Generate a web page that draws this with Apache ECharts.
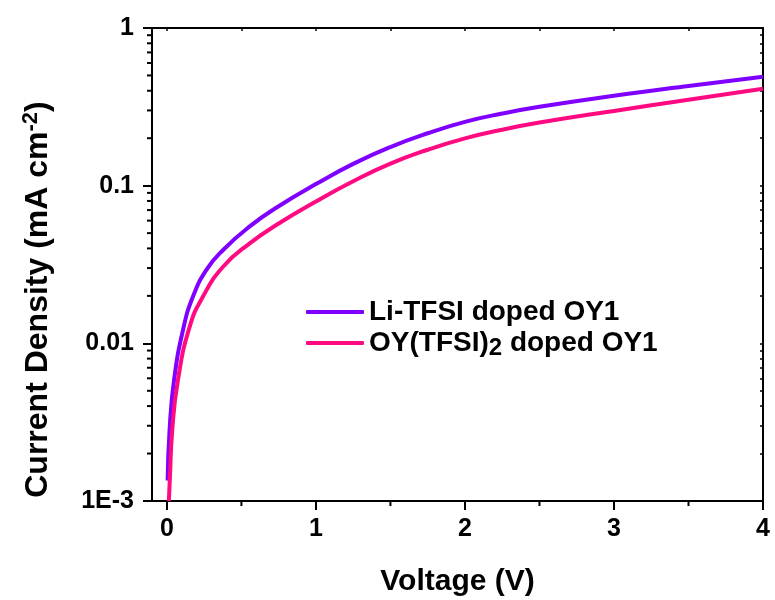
<!DOCTYPE html>
<html>
<head>
    <meta charset="utf-8">
    <title>Current Density vs Voltage</title>
    <script src="https://cdn.jsdelivr.net/npm/echarts@6/dist/echarts.min.js"></script>
    <style>
        html, body { margin: 0; padding: 0; background: #ffffff; }
        #main { width: 775px; height: 600px; }
    </style>
</head>
<body>
<div id="main"></div>
<script type="text/javascript">
    // values
    var liVoltage = [0.005, 0.018, 0.048, 0.108, 0.175, 0.265, 0.377, 0.556, 0.75, 1.0, 1.25, 1.5, 1.75, 2.0, 2.25, 2.5, 3.0, 3.5, 4.0];
    var liCurrent = [0.00135, 0.00282, 0.00585, 0.01216, 0.0198, 0.0292, 0.0391, 0.0552, 0.0741, 0.1023, 0.1374, 0.1758, 0.2150, 0.2541, 0.2867, 0.3162, 0.3715, 0.4290, 0.491];
    var oyVoltage = [0.013, 0.020, 0.036, 0.074, 0.153, 0.242, 0.377, 0.556, 0.75, 1.0, 1.25, 1.5, 1.75, 2.0, 2.25, 2.5, 3.0, 3.5, 4.0];
    var oyCurrent = [0.0010, 0.00140, 0.00282, 0.00585, 0.01276, 0.0198, 0.0306, 0.0431, 0.0575, 0.0794, 0.1067, 0.138, 0.169, 0.1995, 0.2265, 0.2512, 0.2979, 0.3508, 0.412];

    var xMin = -0.1, xMax = 4;
    var yMin = 0.001, yMax = 1;
    var xMajorTicks = [0, 1, 2, 3, 4];
    var xMinorTicks = [0.5, 1.5, 2.5, 3.5];
    var xTopTicks = [0, 0.5, 1, 1.5, 2, 2.5, 3, 3.5, 4];
    var yMajorTicks = [0.001, 0.01, 0.1, 1];
    var yMinorTicks = [0.002, 0.003, 0.004, 0.005, 0.006, 0.007, 0.008, 0.009,
        0.02, 0.03, 0.04, 0.05, 0.06, 0.07, 0.08, 0.09,
        0.2, 0.3, 0.4, 0.5, 0.6, 0.7, 0.8, 0.9];

    var seriesNames = ['Li-TFSI doped OY1', 'OY(TFSI)2 doped OY1'];
    var seriesColors = ['#7f00ff', '#ff0a80'];

    function pairs(xs, ys) {
        var out = [];
        for (var i = 0; i < xs.length; i++) {
            out.push([xs[i], ys[i]]);
        }
        return out;
    }

    var font = 'Arial, "Liberation Sans", Helvetica, sans-serif';
    var axisColor = '#000000';

    var chart = echarts.init(document.getElementById('main'), null, {renderer: 'canvas'});

    // minor ticks drawn through the axes' own coordinate conversion
    var yMinorData = yMinorTicks.map(function (v) { return [xMin, v]; });
    var xMinorData = xMinorTicks.map(function (v) { return [v, yMin]; });

    var option = {
        backgroundColor: '#ffffff',
        animation: false,
        grid: {
            left: 152, right: 12, top: 28, bottom: 99,
            containLabel: false,
            outerBoundsMode: 'none'
        },
        legend: {
            orient: 'vertical',
            left: 301,
            top: 290,
            itemWidth: 58,
            itemHeight: 4,
            itemGap: -3,
            icon: 'roundRect',
            data: seriesNames,
            formatter: function (name) {
                return name.replace('(TFSI)2', '(TFSI){sub|2}');
            },
            textStyle: {
                fontFamily: font,
                fontSize: 28,
                fontWeight: 'bold',
                color: '#000',
                lineHeight: 34,
                rich: {
                    sub: {
                        fontFamily: font,
                        fontSize: 24,
                        fontWeight: 'bold',
                        color: '#000',
                        lineHeight: 9,
                        verticalAlign: 'bottom'
                    }
                }
            }
        },
        xAxis: [{
            type: 'value',
            position: 'bottom',
            min: xMin,
            max: xMax,
            name: 'Voltage (V)',
            nameLocation: 'middle',
            nameGap: 66,
            nameTextStyle: {fontFamily: font, fontSize: 30, fontWeight: 'bold', color: '#000'},
            axisLine: {show: true, onZero: false, lineStyle: {color: axisColor, width: 2}},
            axisTick: {show: true, inside: false, length: 9, lineStyle: {color: axisColor, width: 2}, customValues: xMajorTicks},
            axisLabel: {
                show: true, margin: 16, customValues: xMajorTicks,
                fontFamily: font, fontSize: 25, fontWeight: 'bold', color: '#000'
            },
            splitLine: {show: false}
        }, {
            // top frame
            type: 'value',
            position: 'top',
            min: xMin,
            max: xMax,
            axisLine: {show: true, onZero: false, lineStyle: {color: axisColor, width: 2}},
            axisTick: {show: true, inside: true, length: 3, lineStyle: {color: axisColor, width: 1.5}, customValues: xTopTicks},
            axisLabel: {show: false},
            splitLine: {show: false}
        }],
        yAxis: [{
            type: 'log',
            logBase: 10,
            position: 'left',
            min: yMin,
            max: yMax,
            name: 'Current Density (mA cm{sup|-2})',
            nameLocation: 'middle',
            nameGap: 96,
            nameTextStyle: {
                fontFamily: font, fontSize: 32, fontWeight: 'bold', color: '#000',
                lineHeight: 36,
                padding: [0, 70, 0, 0],
                rich: {
                    sup: {
                        fontFamily: font, fontSize: 22, fontWeight: 'bold', color: '#000',
                        lineHeight: 22, verticalAlign: 'top'
                    }
                }
            },
            axisLine: {show: true, onZero: false, lineStyle: {color: axisColor, width: 2}},
            axisTick: {show: true, inside: false, length: 9, lineStyle: {color: axisColor, width: 2}, customValues: yMajorTicks},
            axisLabel: {
                show: true, margin: 18, customValues: yMajorTicks,
                fontFamily: font, fontSize: 25, fontWeight: 'bold', color: '#000',
                formatter: function (v) {
                    if (v < 0.005) return '1E-3';
                    if (v < 0.05) return '0.01';
                    if (v < 0.5) return '0.1';
                    return '1';
                }
            },
            splitLine: {show: false}
        }, {
            // right frame
            type: 'log',
            logBase: 10,
            position: 'right',
            min: yMin,
            max: yMax,
            axisLine: {show: true, onZero: false, lineStyle: {color: axisColor, width: 2}},
            axisTick: {show: true, inside: true, length: 3, lineStyle: {color: axisColor, width: 1.5}, customValues: yMajorTicks.concat(yMinorTicks)},
            axisLabel: {show: false},
            splitLine: {show: false}
        }],
        series: [{
            name: seriesNames[0],
            type: 'line',
            xAxisIndex: 0,
            yAxisIndex: 0,
            data: pairs(liVoltage, liCurrent),
            showSymbol: false,
            smooth: 0.5,
            color: seriesColors[0],
            lineStyle: {color: seriesColors[0], width: 4},
            z: 3
        }, {
            name: seriesNames[1],
            type: 'line',
            xAxisIndex: 0,
            yAxisIndex: 0,
            data: pairs(oyVoltage, oyCurrent),
            showSymbol: false,
            smooth: 0.5,
            color: seriesColors[1],
            lineStyle: {color: seriesColors[1], width: 4},
            z: 4
        }, {
            // left minor ticks (log decades 2..9)
            type: 'custom',
            xAxisIndex: 0,
            yAxisIndex: 0,
            silent: true,
            clip: false,
            encode: {x: 0, y: 1},
            data: yMinorData,
            renderItem: function (params, api) {
                var p = api.coord([api.value(0), api.value(1)]);
                return {
                    type: 'line',
                    shape: {x1: p[0] - 5, y1: p[1], x2: p[0], y2: p[1]},
                    style: {stroke: axisColor, lineWidth: 2}
                };
            },
            z: 5
        }, {
            // bottom minor ticks
            type: 'custom',
            xAxisIndex: 0,
            yAxisIndex: 0,
            silent: true,
            clip: false,
            encode: {x: 0, y: 1},
            data: xMinorData,
            renderItem: function (params, api) {
                var p = api.coord([api.value(0), api.value(1)]);
                return {
                    type: 'line',
                    shape: {x1: p[0], y1: p[1], x2: p[0], y2: p[1] + 5},
                    style: {stroke: axisColor, lineWidth: 2}
                };
            },
            z: 5
        }]
    };

    chart.setOption(option);
</script>
</body>
</html>
